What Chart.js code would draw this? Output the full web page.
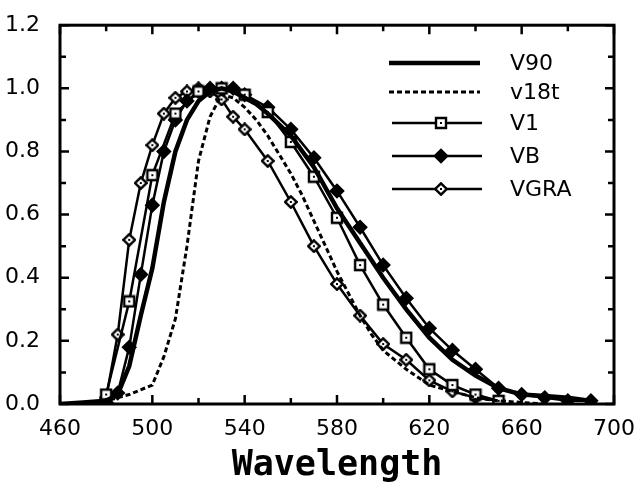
<!DOCTYPE html>
<html>
<head>
<meta charset="utf-8">
<script src="https://cdn.jsdelivr.net/npm/chart.js@4/dist/chart.umd.min.js"></script>
<style>
  body { margin: 0; background: #fff; }
  #wrap { width: 639px; height: 491px; }
</style>
</head>
<body>
<div id="wrap"><canvas id="chart" width="639" height="491"></canvas></div>
<script>
// values
const v90Wave = [460, 470, 480, 485, 490, 495, 500, 505, 510, 515, 520, 525, 530, 535, 540, 545, 550, 560, 570, 580, 590, 600, 610, 620, 630, 640, 650, 660, 670, 680, 690, 692]
const v90Vals = [0, 0.005, 0.01, 0.03, 0.12, 0.28, 0.43, 0.64, 0.80, 0.90, 0.96, 0.99, 1.0, 0.99, 0.97, 0.95, 0.92, 0.85, 0.75, 0.62, 0.51, 0.40, 0.30, 0.21, 0.14, 0.09, 0.05, 0.03, 0.025, 0.02, 0.01, 0]

const v18tWave = [468, 480, 490, 500, 505, 510, 515, 520, 525, 530, 535, 540, 545, 550, 555, 560, 565, 570, 575, 580, 585, 590, 595, 600, 610, 620, 630, 640, 650, 660, 670]
const v18tVals = [0, 0.01, 0.03, 0.06, 0.15, 0.27, 0.50, 0.77, 0.91, 0.98, 0.97, 0.94, 0.90, 0.85, 0.79, 0.73, 0.66, 0.58, 0.50, 0.42, 0.35, 0.28, 0.22, 0.17, 0.11, 0.06, 0.04, 0.02, 0.01, 0.005, 0]

const v1Wave = [480, 490, 500, 510, 520, 530, 540, 550, 560, 570, 580, 590, 600, 610, 620, 630, 640, 650]
const v1Vals = [0.03, 0.325, 0.725, 0.92, 0.99, 1.0, 0.98, 0.925, 0.83, 0.72, 0.59, 0.44, 0.315, 0.21, 0.11, 0.06, 0.03, 0.01]

const vbWave = [480, 485, 490, 495, 500, 505, 510, 515, 520, 525, 530, 535, 540, 550, 560, 570, 580, 590, 600, 610, 620, 630, 640, 650, 660, 670, 680, 690]
const vbVals = [0.005, 0.035, 0.18, 0.41, 0.63, 0.80, 0.90, 0.96, 0.99, 1.0, 1.0, 1.0, 0.98, 0.94, 0.87, 0.78, 0.675, 0.56, 0.44, 0.335, 0.24, 0.17, 0.11, 0.05, 0.03, 0.02, 0.01, 0.01]

const vgraWave = [480, 485, 490, 495, 500, 505, 510, 515, 520, 525, 530, 535, 540, 550, 560, 570, 580, 590, 600, 610, 620, 630, 640, 650]
const vgraVals = [0.02, 0.22, 0.52, 0.70, 0.82, 0.92, 0.97, 0.99, 1.0, 0.99, 0.965, 0.91, 0.87, 0.77, 0.64, 0.50, 0.38, 0.28, 0.19, 0.14, 0.075, 0.04, 0.02, 0.01]

const xTicks = [460, 500, 540, 580, 620, 660, 700]
const yTicks = [0, 0.2, 0.4, 0.6, 0.8, 1.0, 1.2]

function pts(wave, vals) {
  return wave.map((w, i) => ({ x: w, y: vals[i] }))
}

// small marker images: open square / open diamond with a dot in the middle
function makeMarker(kind) {
  const c = document.createElement('canvas')
  c.width = 14
  c.height = 14
  const ctx = c.getContext('2d')
  ctx.fillStyle = '#fff'
  ctx.strokeStyle = '#000'
  ctx.lineWidth = 2.4
  ctx.beginPath()
  if (kind === 'square') {
    ctx.rect(2, 2, 10, 10)
  } else {
    ctx.moveTo(7, 1.3); ctx.lineTo(12.7, 7); ctx.lineTo(7, 12.7); ctx.lineTo(1.3, 7); ctx.closePath()
  }
  ctx.fill()
  ctx.stroke()
  ctx.fillStyle = '#000'
  ctx.fillRect(6, 6, 2, 2)
  return c
}
const squareMark = makeMarker('square')
const diamondMark = makeMarker('diamond')

const font = 'DejaVu Sans'

const datasets = [
  { label: 'V90', data: pts(v90Wave, v90Vals), borderColor: '#000', borderWidth: 4.5, pointRadius: 0 },
  { label: 'v18t', data: pts(v18tWave, v18tVals), borderColor: '#000', borderWidth: 3, borderDash: [5, 3], pointRadius: 0 },
  { label: 'V1', data: pts(v1Wave, v1Vals), borderColor: '#000', borderWidth: 2.5, pointStyle: squareMark, pointRadius: 6 },
  { label: 'VB', data: pts(vbWave, vbVals), borderColor: '#000', borderWidth: 2.5, pointStyle: 'rectRot', pointRadius: 6, pointBackgroundColor: '#000', pointBorderColor: '#000' },
  { label: 'VGRA', data: pts(vgraWave, vgraVals), borderColor: '#000', borderWidth: 2.5, pointStyle: diamondMark, pointRadius: 6 },
]

// frame with inward ticks
const framePlugin = {
  id: 'frame',
  afterDatasetsDraw(chart) {
    const { ctx, chartArea: a, scales } = chart
    ctx.save()
    ctx.strokeStyle = '#000'
    ctx.lineWidth = 3
    ctx.strokeRect(a.left, a.top, a.right - a.left, a.bottom - a.top)
    ctx.lineWidth = 2.5
    ctx.beginPath()
    for (let w = 460; w <= 700; w += 20) {
      const px = scales.x.getPixelForValue(w)
      const len = (w - 460) % 40 === 0 ? 9 : 6
      ctx.moveTo(px, a.bottom); ctx.lineTo(px, a.bottom - len)
      ctx.moveTo(px, a.top); ctx.lineTo(px, a.top + len)
    }
    for (let k = 0; k <= 12; k++) {
      const py = scales.y.getPixelForValue(k / 10)
      const len = k % 2 === 0 ? 9 : 6
      ctx.moveTo(a.left, py); ctx.lineTo(a.left + len, py)
      ctx.moveTo(a.right, py); ctx.lineTo(a.right - len, py)
    }
    ctx.stroke()
    ctx.restore()
  },
}

// legend drawn inside the plot, upper right
const legendPlugin = {
  id: 'insideLegend',
  afterDraw(chart) {
    const ctx = chart.ctx
    const rows = [63, 92, 123, 156, 189]
    ctx.save()
    chart.data.datasets.forEach((ds, i) => {
      const y = rows[i]
      const x1 = i < 2 ? 389 : 392
      const x2 = i < 2 ? 480 : 482
      ctx.strokeStyle = '#000'
      ctx.lineWidth = ds.borderWidth
      ctx.setLineDash(ds.borderDash || [])
      ctx.beginPath()
      ctx.moveTo(x1, y)
      ctx.lineTo(x2, y)
      ctx.stroke()
      ctx.setLineDash([])
      if (ds.pointRadius) {
        Chart.helpers.drawPoint(ctx, {
          pointStyle: ds.pointStyle,
          radius: ds.pointRadius,
          rotation: 0,
          borderWidth: 1,
        }, 441, y)
        if (ds.pointStyle === 'rectRot') {
          ctx.fillStyle = '#000'
          ctx.fill()
        }
      }
      ctx.fillStyle = '#000'
      ctx.font = `22px "${font}"`
      ctx.textBaseline = 'middle'
      ctx.textAlign = 'left'
      ctx.fillText(ds.label, 510, y + 1)
    })
    ctx.restore()
  },
}

new Chart(document.getElementById('chart'), {
  type: 'line',
  data: { datasets: datasets },
  options: {
    responsive: false,
    animation: false,
    events: [],
    layout: { padding: { top: 20, right: 25, left: 0, bottom: 0 } },
    elements: { line: { tension: 0, fill: false } },
    plugins: { legend: { display: false }, tooltip: { enabled: false } },
    scales: {
      x: {
        type: 'linear',
        min: 460,
        max: 700,
        afterBuildTicks: (s) => { s.ticks = xTicks.map((v) => ({ value: v })) },
        afterFit: (s) => { s.height = 87 },
        ticks: { color: '#000', font: { family: font, size: 22 }, padding: 4, maxRotation: 0 },
        grid: { display: false },
        border: { display: false },
        title: {
          display: true,
          text: 'Wavelength',
          color: '#000',
          font: { family: 'DejaVu Sans Mono', size: 35, weight: 'bold' },
          padding: { top: 10 },
        },
      },
      y: {
        min: 0,
        max: 1.2,
        afterBuildTicks: (s) => { s.ticks = yTicks.map((v) => ({ value: v })) },
        afterFit: (s) => { s.width = 60 },
        ticks: {
          color: '#000',
          font: { family: font, size: 22 },
          padding: 12,
          callback: (v) => v.toFixed(1),
        },
        grid: { display: false },
        border: { display: false },
      },
    },
  },
  plugins: [framePlugin, legendPlugin],
})
</script>
</body>
</html>
